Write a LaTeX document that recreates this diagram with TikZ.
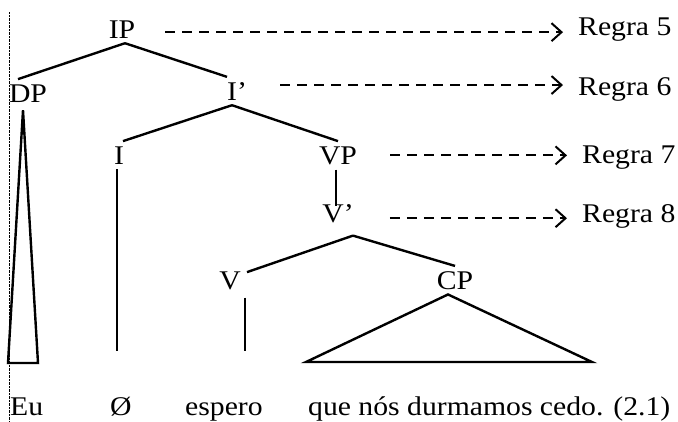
\documentclass[tikz,border=0pt]{standalone}
\usepackage{fontspec}
\setmainfont{Liberation Serif}[FakeStretch=1.1]
\usetikzlibrary{arrows.meta,positioning}

\begin{document}
\begin{tikzpicture}[x=1pt, y=-1pt,
    cat/.style={inner sep=5pt, font=\fontsize{27}{30}\selectfont, anchor=base},
    word/.style={inner sep=0pt, font=\fontsize{27}{30}\selectfont, anchor=base west},
    rulename/.style={inner sep=0pt, font=\fontsize{27}{30}\selectfont, anchor=base west},
    branch/.style={line width=2.4pt},
    ruleflow/.style={line width=2pt, dash pattern=on 10pt off 7pt, shorten >=15pt,
        -{Straight Barb[length=10pt, width=18pt, line width=2pt]}}
]
    \useasboundingbox (0,0) rectangle (678,421);
    \draw[line width=0.6pt, dash pattern=on 0.7pt off 0.7pt] (9,12) -- (9,421);

    % Categories
    \node[cat] (IP) at (122,38) {IP};
    \node[cat] (DP) at (28,102) {DP};
    \node[cat] (Ibar) at (237,100) {I’};
    \node[cat] (I) at (119,164) {I};
    \node[cat] (VP) at (338,164) {VP};
    \node[cat] (Vbar) at (338,222) {V’};
    \node[cat] (V) at (230,289) {V};
    \node[cat] (CP) at (455,289) {CP};

    % Rules
    \node[rulename] (r5) at (578,35) {Regra 5};
    \node[rulename] (r6) at (578,95) {Regra 6};
    \node[rulename] (r7) at (582,163) {Regra 7};
    \node[rulename] (r8) at (582,222) {Regra 8};

    % Words
    \node[word] (eu) at (10,415) {Eu};
    \node[word] (null) at (110,415) {Ø};
    \node[word] (espero) at (185,415) {espero};
    \node[word] (clause) at (308,415) {que nós durmamos cedo. (2.1)};

    \coordinate (leafend) at (0,351);

    % Branches
    \draw[branch] ([xshift=3pt]IP.south) -- ([xshift=-10pt]DP.north);
    \draw[branch] ([xshift=3pt]IP.south) -- ([xshift=-10pt]Ibar.north);
    \draw[branch] ([xshift=-5pt]Ibar.south) -- ([xshift=4pt]I.north);
    \draw[branch] ([xshift=-5pt]Ibar.south) -- (VP.north);
    \draw[branch] ([xshift=-2pt]VP.south) -- ([xshift=-2pt,yshift=-7pt]Vbar.north);
    \draw[branch] ([xshift=15pt,yshift=-8pt]Vbar.south) -- ([xshift=17pt,yshift=-6pt]V.north);
    \draw[branch] ([xshift=15pt,yshift=-8pt]Vbar.south) -- (CP.north);
    \draw[branch] ([xshift=-2pt]I.south) -- ([xshift=-2pt]I.south |- leafend);
    \draw[branch] ([xshift=15pt,yshift=-3pt]V.south) coordinate (vtop) -- (vtop |- leafend);

    % Triangles
    \draw[branch] ([xshift=-5pt,yshift=-3pt]DP.south) -- (8,363) -- (38,363) -- cycle;
    \draw[branch] ([xshift=-7pt]CP.south) -- (306,362) -- (592,362) -- cycle;

    % Rule arrows
    \draw[ruleflow] ([xshift=25pt,yshift=-3pt]IP.east) coordinate (a5) -- (a5 -| r5.west);
    \draw[ruleflow] ([xshift=28pt,yshift=6pt]Ibar.east) coordinate (a6) -- (a6 -| r6.west);
    \draw[ruleflow] ([xshift=28pt]VP.east) coordinate (a7) -- (a7 -| r7.west);
    \draw[ruleflow] ([xshift=31pt,yshift=-5pt]Vbar.east) coordinate (a8) -- (a8 -| r8.west);
\end{tikzpicture}
\end{document}
